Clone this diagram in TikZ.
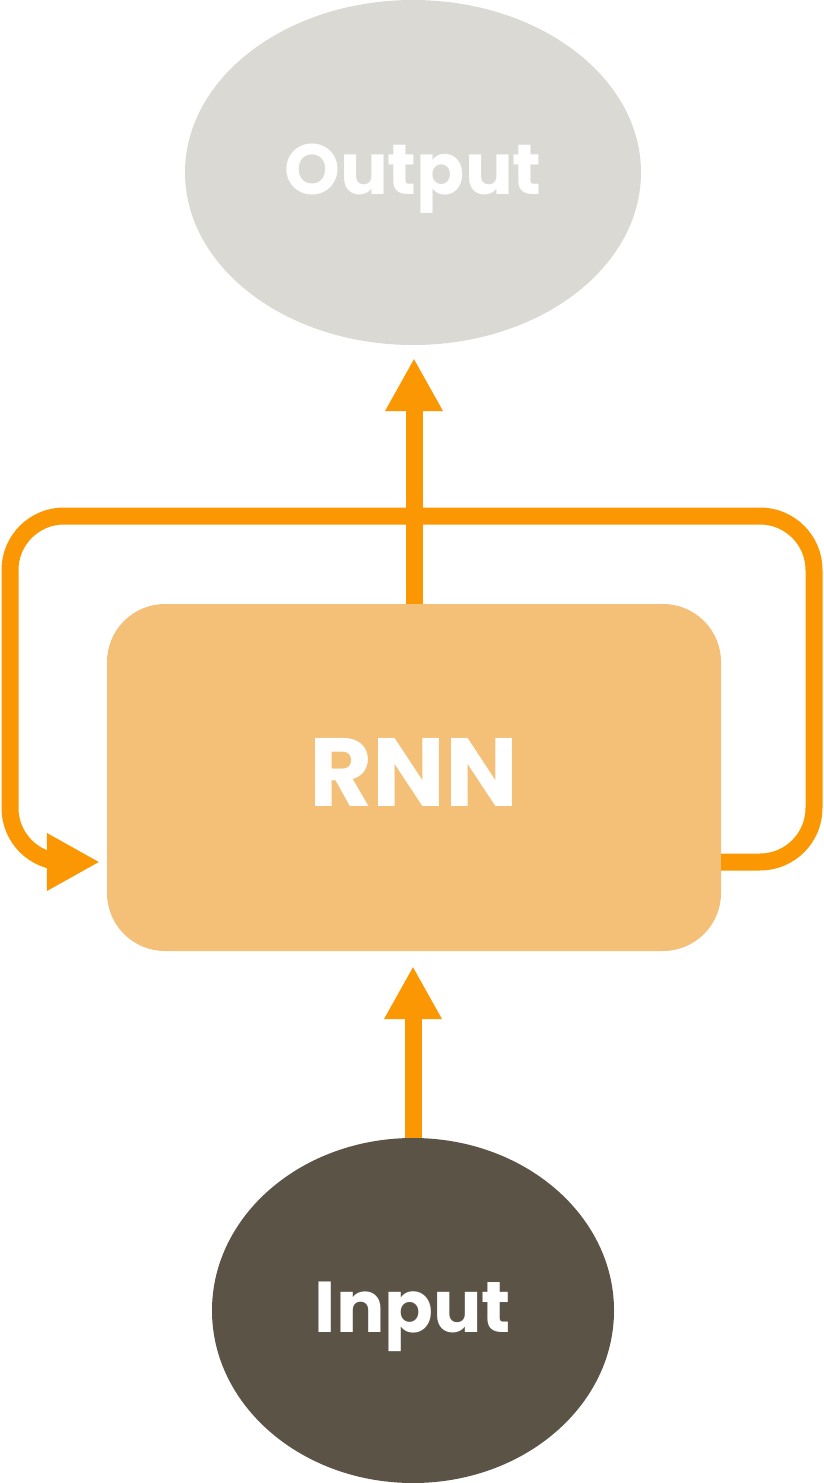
\documentclass[tikz,border=0pt]{standalone}
\usepackage{fontspec}
\setmainfont{Poppins}
\usetikzlibrary{shapes.geometric, arrows.meta}

\definecolor{flowcol}{HTML}{FB9703}
\definecolor{outcol}{HTML}{DAD9D4}
\definecolor{rnncol}{HTML}{F4BF77}
\definecolor{incol}{HTML}{5A5346}

\begin{document}
\begin{tikzpicture}[x=1pt, y=-1pt,
  blob/.style={ellipse, inner sep=0pt, text=white, text depth=6pt},
  flow/.style={draw=flowcol, line width=17pt, -{Triangle[length=53pt, width=54pt]}}]
\useasboundingbox (0,0) rectangle (824,1483);

\node[blob, fill=outcol, minimum width=456pt, minimum height=345pt,
  font=\bfseries\fontsize{71}{76}\selectfont] (output) at (413,172.5) {Output};
\node[rectangle, rounded corners=58pt, fill=rnncol, minimum width=614pt, minimum height=347pt,
  inner sep=0pt, text=white, text depth=11pt, font=\bfseries\fontsize{97}{102}\selectfont] (rnn) at (414,777.5) {RNN};
\node[blob, fill=incol, minimum width=402pt, minimum height=345pt,
  font=\bfseries\fontsize{72}{77}\selectfont] (input) at (413,1310.5) {Input};

\coordinate (loopout) at ([yshift=-84.5pt]rnn.east);
\coordinate (loopin) at ([xshift=-7pt]rnn.west |- loopout);

\draw[flow, shorten >=13pt] (rnn.north) -- (rnn.north |- output.south);
\draw[flow, shorten >=15pt] (input.north) -- (input.north |- rnn.south);
\draw[flow, rounded corners=54pt] (loopout) -- (814,862) -- (814,516) -- (10,516) -- (10,862) -- (loopin);
\end{tikzpicture}
\end{document}
